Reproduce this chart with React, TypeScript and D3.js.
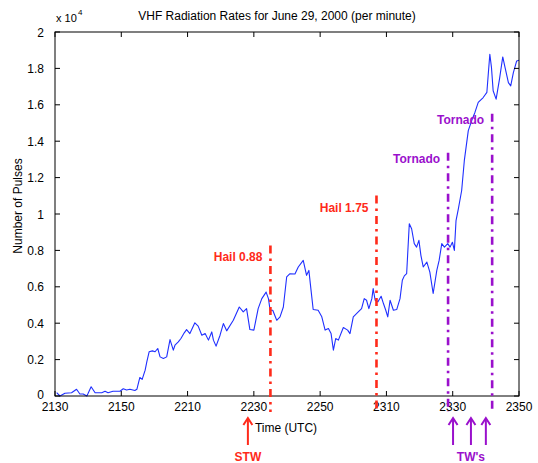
import React from "react";
import * as d3 from "d3";

// ---- data ----
// minutes after 21:30 UTC
const minutes = [
  0.5, 1.5, 3.0, 5.0, 6.5, 7.5, 8.5, 9.6, 10.0, 10.9, 12.1, 14.1, 15.1, 16.0, 17.5, 19.6,
  20.6, 21.6, 22.6, 24.1, 24.7, 25.6, 26.3, 27.2, 27.7, 28.4, 29.4, 30.2, 31.0, 31.7, 32.7,
  33.7, 34.7, 35.7, 36.2, 37.2, 38.0, 39.0, 39.7, 40.7, 42.2, 43.2, 44.3, 45.3, 46.3, 47.3,
  47.8, 48.6, 49.8, 50.8, 51.8, 53.8, 55.6, 56.8, 57.8, 58.8, 60.0, 61.3, 62.4, 63.7, 64.4,
  64.9, 65.7, 66.9, 67.9, 68.9, 69.9, 70.9, 72.4, 73.4, 74.9, 75.9, 76.6, 77.2, 77.9, 79.4,
  80.5, 81.5, 82.5, 83.3, 84.0, 84.7, 85.5, 87.0, 88.3, 89.0, 90.0, 91.5, 92.5, 93.3, 94.0,
  94.7, 95.6, 96.0, 96.6, 97.4, 98.4, 99.1, 99.8, 100.4, 101.1, 102.1, 103.1, 104.1, 104.8,
  105.4, 106.1, 106.9, 107.6, 108.4, 109.1, 109.8, 110.4, 111.1, 112.2, 113.1, 114.1, 115.2,
  115.9, 116.7, 117.5, 118.5, 119.2, 119.9, 120.5, 121.0, 121.7, 122.7, 123.5, 124.7, 125.7,
  126.7, 127.7, 129.2, 130.3, 130.8, 131.2, 131.7, 132.2, 133.1, 134.1, 135.1, 135.8, 136.8,
  137.5, 138.3, 139.3, 140.0,
];
const pulses = [
  180, 0, 150, 180, 370, 110, 110, 0, 150, 510, 180, 180, 260, 180, 260, 260,
  400, 330, 370, 300, 370, 1020, 910, 1420, 1880, 2430, 2480, 2430, 2610, 2150, 2060,
  2150, 3100, 2520, 2790, 2970, 3160, 3470, 3650, 3430, 4020, 3840, 3340, 3430, 3070, 3520,
  3070, 2740, 3340, 3980, 3580, 4160, 4890, 4620, 4800, 3650, 3620, 4800, 5350, 5710, 5350,
  4710, 4710, 4160, 4350, 4890, 6540, 6720, 6700, 7090, 7450, 6630, 6900, 5900, 4750, 4710,
  4350, 3620, 3710, 3430, 2520, 3160, 3070, 3760, 3620, 3430, 4350, 4620, 4800, 5350, 5260,
  4800, 5350, 5900, 5260, 5170, 5480, 5080, 4710, 4350, 5260, 4710, 4750, 5350, 6360,
  6600, 6720, 9460, 9190, 8370, 8180, 8550, 7730, 7090, 7360, 6810, 5630, 6900,
  7450, 8370, 8180, 8370, 8180, 8450, 8000, 9640, 10280, 11290, 12930, 14580, 15120,
  15580, 16130, 16400, 16680, 17860, 18780, 18040, 16770, 16310, 17400, 18630, 18040, 17220,
  17040, 17770, 18410, 18450,
];

const xTickMinutes = [0, 20, 40, 60, 80, 100, 120, 140];
const xTickLabels = ["2130", "2150", "2210", "2230", "2250", "2310", "2330", "2350"];
const yTicks = [0, 2000, 4000, 6000, 8000, 10000, 12000, 14000, 16000, 18000, 20000];

// event lines: time, top value, label
const eventMinutes = [65, 97, 118.6, 131.9];
const eventTops = [8270, 11010, 13370, 15510];
const eventLabels = ["Hail 0.88", "Hail 1.75", "Tornado", "Tornado"];
const eventKinds = ["hail", "hail", "tornado", "tornado"];

// arrows below the axis
const stwMinutes = [58.2];
const twMinutes = [120.1, 125.5, 130.0];

const title = "VHF Radiation Rates for June 29, 2000 (per minute)";

export default function App() {
  const W = 538, H = 463;
  const left = 55, right = 519, top = 32, bottom = 396;
  const x = d3.scaleLinear().domain([0, 140]).range([left, right]);
  const y = d3.scaleLinear().domain([0, 20000]).range([bottom, top]);
  const line = d3.line<number>().x((_, i) => x(minutes[i])).y((d) => y(d));
  const font = "'Liberation Sans', Arial, sans-serif";
  const red = "#ff2a1a";
  const purple = "#9a10cc";
  const tick = 5;

  const arrow = (m: number, color: string, key: string) => {
    const ax = x(m);
    const y0 = 445, y1 = 418;
    return (
      <g key={key} stroke={color} strokeWidth={2} fill="none">
        <line x1={ax} x2={ax} y1={y0} y2={y1 + 1} />
        <polyline points={`${ax - 4.5},${y1 + 7} ${ax},${y1} ${ax + 4.5},${y1 + 7}`} />
      </g>
    );
  };

  return (
    <svg width={W} height={H} style={{ position: "absolute", left: 0, top: 0, background: "#fff" }} fontFamily={font}>
      <rect x={0} y={0} width={W} height={H} fill="#fff" />
      {/* data line */}
      <path d={line(pulses) || ""} fill="none" stroke="#1f2fff" strokeWidth={1.1} strokeLinejoin="round" />

      {/* axes box */}
      <rect x={left} y={top} width={right - left} height={bottom - top} fill="none" stroke="#000" strokeWidth={1} />
      {xTickMinutes.map((m, i) => (
        <g key={"xt" + i}>
          <line x1={x(m)} x2={x(m)} y1={bottom} y2={bottom - tick} stroke="#000" />
          <line x1={x(m)} x2={x(m)} y1={top} y2={top + tick} stroke="#000" />
          <text x={x(m)} y={411} textAnchor="middle" fontSize={12} fill="#000">{xTickLabels[i]}</text>
        </g>
      ))}
      {yTicks.map((v, i) => (
        <g key={"yt" + i}>
          <line x1={left} x2={left + tick} y1={y(v)} y2={y(v)} stroke="#000" />
          <line x1={right} x2={right - tick} y1={y(v)} y2={y(v)} stroke="#000" />
          <text x={left - 11} y={y(v) + (v === 0 ? 3 : 4.5)} textAnchor="end" fontSize={12} fill="#000">
            {String(+(v / 10000).toFixed(1))}
          </text>
        </g>
      ))}
      <text x={left + 1} y={22} fontSize={11} fill="#000">x 10</text>
      <text x={left + 23} y={15} fontSize={8} fill="#000">4</text>
      <text x={277} y={20} textAnchor="middle" fontSize={12} fill="#000">{title}</text>
      <text x={286} y={432} textAnchor="middle" fontSize={12} fill="#000">Time (UTC)</text>
      <text transform={`translate(22,${(top + bottom) / 2 - 8}) rotate(-90)`} textAnchor="middle" fontSize={12} fill="#000">
        Number of Pulses
      </text>

      {/* event lines */}
      {eventMinutes.map((m, i) => {
        const c = eventKinds[i] === "hail" ? red : purple;
        const ty = y(eventTops[i]);
        const labelY = eventKinds[i] === "hail" ? ty + 16 : ty + 10;
        return (
          <g key={"ev" + i}>
            <line x1={x(m)} x2={x(m)} y1={ty} y2={bottom + 16} stroke={c} strokeWidth={2.6} strokeDasharray="8,5,2.5,5" />
            <text x={x(m) - 8} y={labelY} textAnchor="end" fontSize={12} fontWeight="bold" fill={c}>
              {eventLabels[i]}
            </text>
          </g>
        );
      })}

      {/* arrows */}
      {stwMinutes.map((m, i) => arrow(m, red, "stw" + i))}
      {twMinutes.map((m, i) => arrow(m, purple, "tw" + i))}
      <text x={x(stwMinutes[0])} y={461} textAnchor="middle" fontSize={12} fontWeight="bold" fill={red}>STW</text>
      <text x={x(twMinutes[1])} y={461} textAnchor="middle" fontSize={12} fontWeight="bold" fill={purple}>TW's</text>
    </svg>
  );
}
